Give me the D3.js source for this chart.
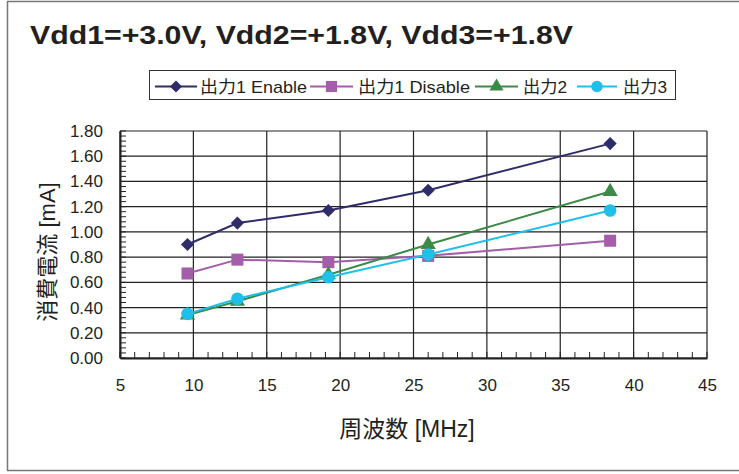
<!DOCTYPE html>
<html>
<head>
<meta charset="utf-8">
<script src="https://cdn.jsdelivr.net/npm/d3@7"></script>
<style>
  body { margin: 0; background: #fff; }
  text { font-family: "Liberation Sans", Arial, "Noto Sans CJK JP", sans-serif; fill: #231f20; }
</style>
</head>
<body>
<div id="chart"></div>
<script>
// frequencies (MHz)
const freqs = [9.6, 13, 19.2, 26, 38.4];
// current (mA)
const out1Enable = [0.90, 1.07, 1.17, 1.33, 1.70];
const out1Disable = [0.67, 0.78, 0.76, 0.81, 0.93];
const out2 = [0.34, 0.45, 0.66, 0.90, 1.32];
const out3 = [0.35, 0.47, 0.64, 0.82, 1.17];
const seriesNames = ['出力1 Enable', '出力1 Disable', '出力2', '出力3'];

const series = [
  { name: seriesNames[0], values: out1Enable, color: '#2f2c6a', sym: d3.symbolDiamond2, size: 110 },
  { name: seriesNames[1], values: out1Disable, color: '#a35da9', sym: d3.symbolSquare, size: 145 },
  { name: seriesNames[2], values: out2, color: '#3b8a47', sym: d3.symbolTriangle, size: 100 },
  { name: seriesNames[3], values: out3, color: '#1ec0ea', sym: d3.symbolCircle, size: 125 }
];

const W = 739, H = 474;
const svg = d3.select('#chart').append('svg').attr('width', W).attr('height', H);

// outer frame
svg.append('rect').attr('x', 7.5).attr('y', 1.5).attr('width', 740).attr('height', 469)
  .attr('fill', 'none').attr('stroke', '#777').attr('stroke-width', 1.5);

svg.append('text').attr('x', 30).attr('y', 44)
  .attr('font-family', '"DejaVu Sans", sans-serif')
  .attr('font-size', 25).attr('font-weight', 'bold')
  .attr('textLength', 543).attr('lengthAdjust', 'spacingAndGlyphs')
  .text('Vdd1=+3.0V, Vdd2=+1.8V, Vdd3=+1.8V');

const m = { left: 120, right: 707, top: 131, bottom: 358 };
const x = d3.scaleLinear().domain([5, 45]).range([m.left, m.right]);
const y = d3.scaleLinear().domain([0, 1.8]).range([m.bottom, m.top]);

// grid
const g = svg.append('g');
g.selectAll('.vg').data(d3.range(5, 46, 5)).enter().append('line')
  .attr('x1', d => x(d)).attr('x2', d => x(d)).attr('y1', m.top).attr('y2', m.bottom)
  .attr('stroke', '#222').attr('stroke-width', 1.2);
g.selectAll('.hg').data(d3.range(0, 1.81, 0.2)).enter().append('line')
  .attr('x1', m.left).attr('x2', m.right).attr('y1', d => y(d)).attr('y2', d => y(d))
  .attr('stroke', '#222').attr('stroke-width', 1.2);

// axes
const xAxis = svg.append('g').attr('transform', `translate(0,${m.bottom})`)
  .call(d3.axisBottom(x).tickValues(d3.range(5, 46, 5)).tickSize(0).tickPadding(21).tickFormat(d3.format('d')));
xAxis.select('.domain').attr('stroke', '#222').attr('stroke-width', 2);
xAxis.selectAll('text').attr('font-size', 17).attr('fill', '#231f20');

const xMinor = d3.range(5, 45.01, 1);
svg.selectAll('.xm').data(xMinor).enter().append('line')
  .attr('x1', d => x(d)).attr('x2', d => x(d)).attr('y1', m.bottom).attr('y2', m.bottom - 6)
  .attr('stroke', '#222').attr('stroke-width', 1);

const yAxis = svg.append('g').attr('transform', `translate(${m.left},0)`)
  .call(d3.axisLeft(y).tickValues(d3.range(0, 1.81, 0.2)).tickSize(0).tickPadding(17).tickFormat(d3.format('.2f')));
yAxis.select('.domain').attr('stroke', '#222').attr('stroke-width', 2);
yAxis.selectAll('text').attr('font-size', 17).attr('fill', '#231f20');

const yMinor = d3.range(0, 1.801, 0.04);
svg.selectAll('.ym').data(yMinor).enter().append('line')
  .attr('x1', m.left).attr('x2', m.left + 6).attr('y1', d => y(d)).attr('y2', d => y(d))
  .attr('stroke', '#222').attr('stroke-width', 1);

// axis titles
svg.append('text').attr('x', 407).attr('y', 437).attr('text-anchor', 'middle')
  .attr('font-size', 23).text('周波数 [MHz]');
svg.append('text').attr('transform', `translate(55,252) rotate(-90)`)
  .attr('text-anchor', 'middle').attr('font-size', 22).text('消費電流 [mA]');

// series
const line = d3.line().x(d => x(d[0])).y(d => y(d[1]));
series.forEach(s => {
  const pts = freqs.map((f, i) => [f, s.values[i]]);
  svg.append('path').datum(pts).attr('d', line)
    .attr('fill', 'none').attr('stroke', s.color).attr('stroke-width', 2);
  svg.selectAll(null).data(pts).enter().append('path')
    .attr('transform', d => `translate(${x(d[0])},${y(d[1])})`)
    .attr('d', d3.symbol().type(s.sym).size(s.size))
    .attr('fill', s.color);
});

// legend
const lg = svg.append('g');
lg.append('rect').attr('x', 149.5).attr('y', 70.5).attr('width', 526).attr('height', 29)
  .attr('fill', '#fff').attr('stroke', '#333').attr('stroke-width', 1);
// [line start, line end, text start, text width]
const legendPos = [[155, 197, 200, 107], [310, 353, 358, 112], [475, 518, 523, 44], [577, 617, 623, 44]];
series.forEach((s, i) => {
  const [a, b, t, tw] = legendPos[i], ly = 86.5;
  lg.append('line').attr('x1', a).attr('x2', b).attr('y1', ly).attr('y2', ly)
    .attr('stroke', s.color).attr('stroke-width', 2);
  lg.append('path').attr('transform', `translate(${(a + b) / 2},${ly})`)
    .attr('d', d3.symbol().type(s.sym).size(s.size * 0.85)).attr('fill', s.color);
  lg.append('text').attr('x', t).attr('y', 92.5).attr('font-size', 17)
    .attr('textLength', tw).attr('lengthAdjust', 'spacingAndGlyphs').text(s.name);
});
</script>
</body>
</html>
